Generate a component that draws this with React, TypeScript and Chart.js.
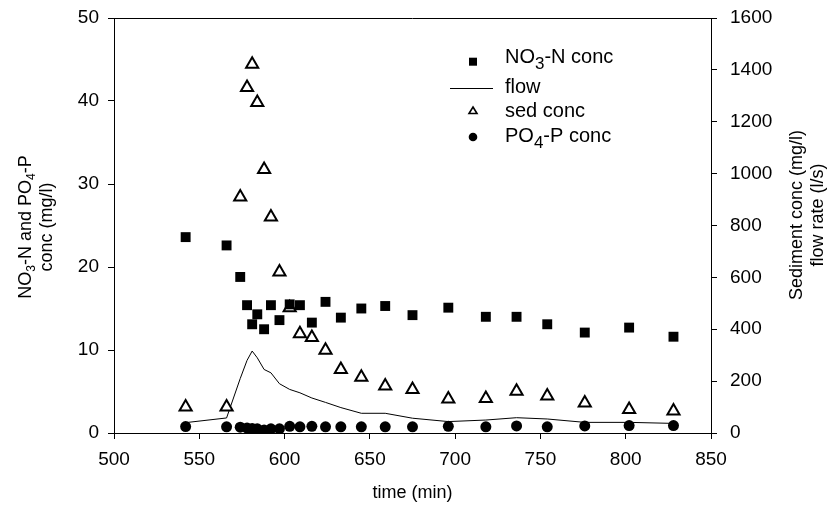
import React, { useEffect, useRef } from 'react';
import { Chart, registerables } from 'chart.js';
Chart.register(...registerables);

const FONT = "'Liberation Sans', Arial, sans-serif";

const times = [542, 566, 574, 578, 581, 584, 588, 592, 597, 603, 609, 616, 624, 633, 645, 659, 675, 696, 718, 736, 754, 776, 802, 828];
const no3Conc = [23.6, 22.6, 18.8, 15.4, 13.1, 14.3, 12.5, 15.4, 13.6, 15.5, 15.4, 13.3, 15.8, 13.9, 15.0, 15.3, 14.2, 15.1, 14.0, 14.0, 13.1, 12.1, 12.7, 11.6];
const sedConc = [100, 100, 910, 1332, 1422, 1274, 1016, 833, 621, 483, 383, 368, 319, 245, 215, 181, 168, 131, 133, 161, 143, 116, 91, 85];
const flowRate = [40, 58, 210, 280, 316, 290, 245, 232, 190, 168, 155, 135, 118, 98, 76, 76, 57, 44, 50, 59, 54, 41, 41, 37];
const po4Conc = [0.78, 0.75, 0.7, 0.6, 0.55, 0.5, 0.35, 0.5, 0.5, 0.8, 0.75, 0.8, 0.75, 0.75, 0.75, 0.75, 0.75, 0.8, 0.75, 0.85, 0.75, 0.85, 0.9, 0.9];

const xTicks = { min: 500, max: 850, step: 50 };
const yLeftTicks = { min: 0, max: 50, step: 10 };
const yRightTicks = { min: 0, max: 1600, step: 200 };

const pts = (vals: number[]) => times.map((t, i) => ({ x: t, y: vals[i] }));

type Seg = { t: string; sub?: boolean };

function drawRich(ctx: CanvasRenderingContext2D, segs: Seg[], x: number, y: number, size: number, subSize: number, subOff: number) {
  const widths = segs.map((s) => {
    ctx.font = `${s.sub ? subSize : size}px ${FONT}`;
    return ctx.measureText(s.t).width;
  });
  const total = widths.reduce((a, b) => a + b, 0);
  let cx = x - total / 2;
  ctx.textAlign = 'left';
  ctx.textBaseline = 'alphabetic';
  segs.forEach((s, i) => {
    ctx.font = `${s.sub ? subSize : size}px ${FONT}`;
    ctx.fillText(s.t, cx, y + (s.sub ? subOff : 0));
    cx += widths[i];
  });
}

function drawRichLeft(ctx: CanvasRenderingContext2D, segs: Seg[], x: number, y: number, size: number, subSize: number, subOff: number) {
  let cx = x;
  ctx.textAlign = 'left';
  ctx.textBaseline = 'alphabetic';
  segs.forEach((s) => {
    ctx.font = `${s.sub ? subSize : size}px ${FONT}`;
    ctx.fillText(s.t, cx, y + (s.sub ? subOff : 0));
    cx += ctx.measureText(s.t).width;
  });
}

const decorPlugin = {
  id: 'decor',
  afterDraw(chart: any) {
    const ctx: CanvasRenderingContext2D = chart.ctx;
    const a = chart.chartArea;
    ctx.save();
    ctx.strokeStyle = '#000';
    ctx.fillStyle = '#000';
    ctx.lineWidth = 1;
    ctx.beginPath();
    ctx.moveTo(a.left, a.top + 0.5);
    ctx.lineTo(a.right, a.top + 0.5);
    ctx.stroke();

    ctx.font = `18px ${FONT}`;
    ctx.textAlign = 'center';
    ctx.textBaseline = 'middle';
    ctx.fillText('time (min)', (a.left + a.right) / 2, 493);

    ctx.save();
    ctx.translate(0, 227);
    ctx.rotate(-Math.PI / 2);
    drawRich(ctx, [{ t: 'NO' }, { t: '3', sub: true }, { t: '-N and PO' }, { t: '4', sub: true }, { t: '-P' }], 0, 31, 18, 12, 4);
    drawRich(ctx, [{ t: 'conc (mg/l)' }], 0, 52, 18, 12, 4);
    ctx.restore();

    ctx.save();
    ctx.translate(0, 215);
    ctx.rotate(-Math.PI / 2);
    drawRich(ctx, [{ t: 'Sediment conc (mg/l)' }], 0, 802, 18, 12, 4);
    drawRich(ctx, [{ t: 'flow rate (l/s)' }], 0, 823, 18, 12, 4);
    ctx.restore();

    const mx = 473;
    const tx = 505;
    ctx.fillRect(mx - 4, 61.7 - 4, 8, 8);
    ctx.beginPath();
    ctx.moveTo(450, 88.5);
    ctx.lineTo(493, 88.5);
    ctx.stroke();
    ctx.lineWidth = 1.6;
    ctx.beginPath();
    ctx.moveTo(mx, 107);
    ctx.lineTo(mx + 4, 113.5);
    ctx.lineTo(mx - 4, 113.5);
    ctx.closePath();
    ctx.stroke();
    ctx.beginPath();
    ctx.arc(mx, 137, 4.3, 0, Math.PI * 2);
    ctx.fill();

    drawRichLeft(ctx, [{ t: 'NO' }, { t: '3', sub: true }, { t: '-N conc' }], tx, 62.7, 20, 17, 6);
    drawRichLeft(ctx, [{ t: 'flow' }], tx, 93.3, 20, 17, 6);
    drawRichLeft(ctx, [{ t: 'sed conc' }], tx, 116.7, 20, 17, 6);
    drawRichLeft(ctx, [{ t: 'PO' }, { t: '4', sub: true }, { t: '-P conc' }], tx, 141.7, 20, 17, 6);
    ctx.restore();
  },
};

export default function App() {
  const ref = useRef<HTMLCanvasElement>(null);
  useEffect(() => {
    const tickFont = { size: 19, family: FONT };
    const plain = (v: any) => String(v);
    const fixV = (w: number) => (s: any) => {
      s.width = w;
      s.paddingTop = 0;
      s.paddingBottom = 0;
    };
    const chart = new Chart(ref.current!, {
      type: 'scatter',
      data: {
        datasets: [
          {
            label: 'PO4-P conc',
            data: pts(po4Conc),
            yAxisID: 'y',
            pointStyle: 'circle',
            pointRadius: 5.5,
            backgroundColor: '#000',
            borderColor: '#000',
            borderWidth: 0,
            order: 1,
          },
          {
            label: 'NO3-N conc',
            data: pts(no3Conc),
            yAxisID: 'y',
            pointStyle: 'rect',
            pointRadius: 7,
            backgroundColor: '#000',
            borderColor: '#000',
            borderWidth: 0,
            order: 2,
          },
          {
            label: 'sed conc',
            data: pts(sedConc),
            yAxisID: 'y1',
            pointStyle: 'triangle',
            pointRadius: 7,
            backgroundColor: '#fff',
            borderColor: '#000',
            borderWidth: 2,
            order: 3,
          },
          {
            label: 'flow',
            data: pts(flowRate),
            yAxisID: 'y1',
            showLine: true,
            pointRadius: 0,
            borderColor: '#000',
            borderWidth: 1,
            tension: 0,
            order: 4,
          } as any,
        ],
      },
      options: {
        animation: false,
        responsive: false,
        devicePixelRatio: 1,
        layout: { padding: { top: 18, left: 0, right: 0, bottom: 0 } },
        plugins: { legend: { display: false }, tooltip: { enabled: false } },
        scales: {
          x: {
            type: 'linear',
            min: xTicks.min,
            max: xTicks.max,
            ticks: { stepSize: xTicks.step, color: '#000', font: tickFont, padding: 9, maxRotation: 0, callback: plain },
            grid: { drawOnChartArea: false, drawTicks: true, tickLength: 6, color: '#000' },
            border: { color: '#000', width: 1 },
            afterFit: (s: any) => { s.height = 77; s.paddingLeft = 0; s.paddingRight = 0; },
          },
          y: {
            type: 'linear',
            position: 'left',
            min: yLeftTicks.min,
            max: yLeftTicks.max,
            ticks: { stepSize: yLeftTicks.step, color: '#000', font: tickFont, padding: 9, callback: plain },
            grid: { drawOnChartArea: false, drawTicks: true, tickLength: 6, color: '#000' },
            border: { color: '#000', width: 1 },
            afterFit: fixV(114),
          },
          y1: {
            type: 'linear',
            position: 'right',
            min: yRightTicks.min,
            max: yRightTicks.max,
            ticks: { stepSize: yRightTicks.step, color: '#000', font: tickFont, padding: 13, callback: plain },
            grid: { drawOnChartArea: false, drawTicks: true, tickLength: 6, color: '#000' },
            border: { color: '#000', width: 1 },
            afterFit: fixV(119),
          },
        },
      },
      plugins: [decorPlugin],
    });
    return () => chart.destroy();
  }, []);
  return (
    <div style={{ position: 'fixed', left: 0, top: 0, width: 830, height: 510, background: '#fff' }}>
      <canvas ref={ref} width={830} height={510} style={{ display: 'block' }} />
    </div>
  );
}
